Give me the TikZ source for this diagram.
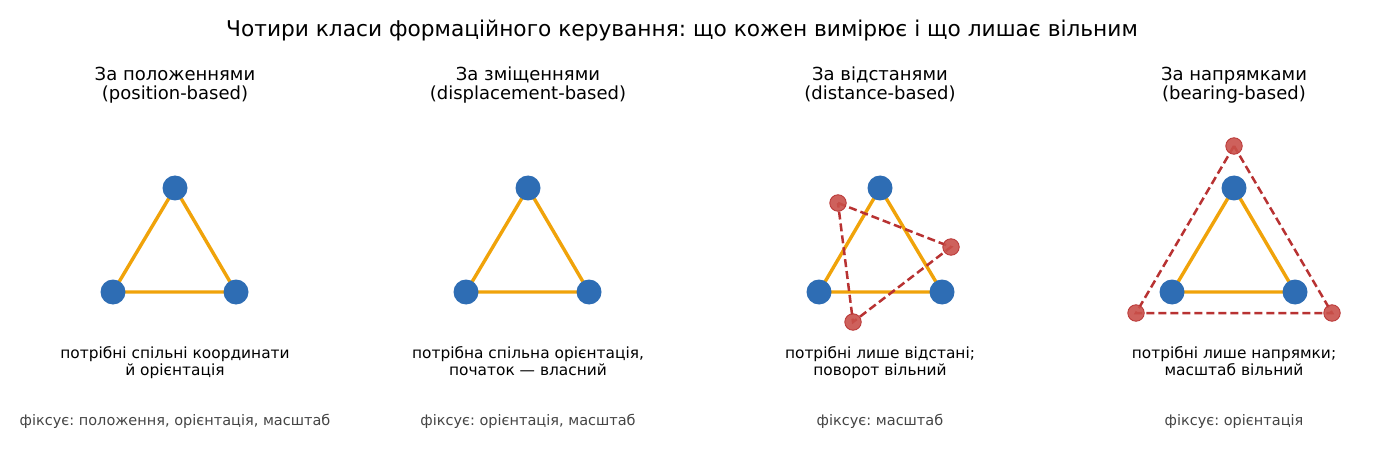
\documentclass[tikz,border=0pt]{standalone}
\usepackage{fontspec}
\setmainfont{DejaVu Sans}
\frenchspacing
\definecolor{bnode}{HTML}{2E6DB4}
\definecolor{oedge}{HTML}{F0A30A}
\definecolor{rnode}{HTML}{C9504A}
\definecolor{redge}{HTML}{B83232}
\definecolor{foot}{HTML}{444444}
\tikzset{
  agent/.style={circle,fill=bnode,draw=none,minimum size=25pt,inner sep=0pt},
  ghost/.style={circle,fill=rnode,fill opacity=0.9,draw=redge,line width=0.8pt,minimum size=16.5pt,inner sep=0pt},
  link/.style={oedge,line width=3.4pt},
  rlink/.style={redge,line width=2.5pt,dash pattern=on 8pt off 4pt},
  ttl/.style={font=\fontsize{21.7}{26}\selectfont,inner sep=0pt,anchor=base},
  ptitle/.style={font=\fontsize{18}{19}\selectfont,align=center,inner sep=0pt,anchor=base},
  body/.style={font=\fontsize{15.4}{16.8}\selectfont,align=center,inner sep=0pt,anchor=base},
  fixes/.style={font=\fontsize{14.5}{17}\selectfont,text=foot,inner sep=0pt,anchor=base}
}
\begin{document}
\begin{tikzpicture}[x=1pt,y=-1pt]
\useasboundingbox (0,0) rectangle (1400,465);
\node[ttl] (title) at (682,37) {Чотири класи формаційного керування: що кожен вимірює і що лишає вільним};
% panel 1
\node[ptitle] (t1) at (175,99.5) {За положеннями\\(position-based)};
\coordinate (a1p) at (175,188);
\coordinate (b1p) at (113,292);
\coordinate (c1p) at (236,292);
\draw[link] (a1p) -- (b1p) -- (c1p) -- cycle;
\node[agent] (a1) at (a1p) {};
\node[agent] (b1) at (b1p) {};
\node[agent] (c1) at (c1p) {};
\node[body] (d1) at (175,375.5) {потрібні спільні координати\\й орієнтація};
\node[fixes] (f1) at (175,425) {фіксує: положення, орієнтація, масштаб};
% panel 2
\node[ptitle] (t2) at (528,99.5) {За зміщеннями\\(displacement-based)};
\coordinate (a2p) at (528,188);
\coordinate (b2p) at (466,292);
\coordinate (c2p) at (589,292);
\draw[link] (a2p) -- (b2p) -- (c2p) -- cycle;
\node[agent] (a2) at (a2p) {};
\node[agent] (b2) at (b2p) {};
\node[agent] (c2) at (c2p) {};
\node[body] (d2) at (528,375.5) {потрібна спільна орієнтація,\\початок — власний};
\node[fixes] (f2) at (528,425) {фіксує: орієнтація, масштаб};
% panel 3
\node[ptitle] (t3) at (880,99.5) {За відстанями\\(distance-based)};
\coordinate (a3p) at (880,188);
\coordinate (b3p) at (819,292);
\coordinate (c3p) at (942,292);
\draw[link] (a3p) -- (b3p) -- (c3p) -- cycle;
\node[agent] (a3) at (a3p) {};
\node[agent] (b3) at (b3p) {};
\node[agent] (c3) at (c3p) {};
\coordinate (r1p) at (838,203);
\coordinate (r2p) at (951,247);
\coordinate (r3p) at (853,322);
\draw[rlink] (r1p) -- (r2p) -- (r3p) -- cycle;
\node[ghost] (r1) at (r1p) {};
\node[ghost] (r2) at (r2p) {};
\node[ghost] (r3) at (r3p) {};
\node[body] (d3) at (880,375.5) {потрібні лише відстані;\\поворот вільний};
\node[fixes] (f3) at (880,425) {фіксує: масштаб};
% panel 4
\node[ptitle] (t4) at (1234,99.5) {За напрямками\\(bearing-based)};
\coordinate (a4p) at (1234,188);
\coordinate (b4p) at (1172,292);
\coordinate (c4p) at (1295,292);
\coordinate (s1p) at (1234,146);
\coordinate (s2p) at (1136,313);
\coordinate (s3p) at (1332,313);
\draw[rlink] (s1p) -- (s2p) -- (s3p) -- cycle;
\draw[link] (a4p) -- (b4p) -- (c4p) -- cycle;
\node[agent] (a4) at (a4p) {};
\node[agent] (b4) at (b4p) {};
\node[agent] (c4) at (c4p) {};
\node[ghost] (s1) at (s1p) {};
\node[ghost] (s2) at (s2p) {};
\node[ghost] (s3) at (s3p) {};
\node[body] (d4) at (1234,375.5) {потрібні лише напрямки;\\масштаб вільний};
\node[fixes] (f4) at (1234,425) {фіксує: орієнтація};
\end{tikzpicture}
\end{document}
